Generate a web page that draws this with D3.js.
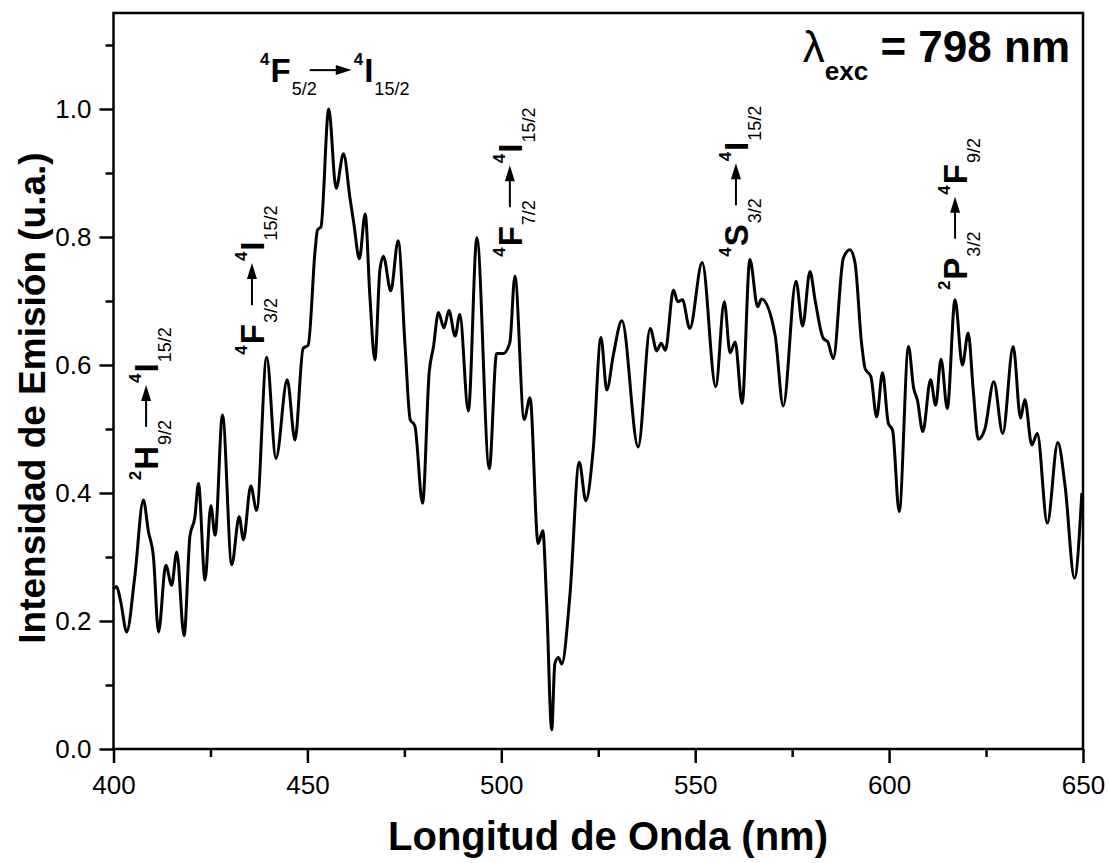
<!DOCTYPE html>
<html>
<head>
<meta charset="utf-8">
<script src="https://cdn.jsdelivr.net/npm/d3@7"></script>
<style>
  body { margin: 0; background: #fff; }
  svg { font-family: "Liberation Sans", Arial, sans-serif; }
</style>
</head>
<body>
<div id="chart"></div>
<script>
// emission spectrum
const wavelength = [
  400.0, 400.8, 401.8, 403.4, 405.5, 407.7, 409.0, 410.3, 411.6, 413.5, 415.0, 416.3, 418.2, 419.7,
  421.0, 421.9, 423.6, 425.1, 426.2, 428.1, 430.5, 432.4, 433.5, 435.4, 436.9, 439.5, 441.9, 444.8,
  446.8, 448.9, 450.2, 452.0, 452.6, 453.5, 455.5, 457.4, 459.3, 461.0, 462.0, 463.4, 464.9, 466.1,
  467.4, 468.7, 469.6, 471.5, 473.4, 475.2, 476.5, 477.7, 479.7, 481.4, 482.5, 483.8, 485.2, 486.5,
  488.1, 489.3, 491.5, 493.7, 496.9, 498.8, 500.5, 502.2, 503.5, 505.9, 507.4, 509.5, 510.7, 511.7,
  513.0, 513.8, 514.7, 515.6, 517.7, 520.1, 521.8, 523.7, 525.7, 527.2, 528.9, 531.1, 535.3, 538.4,
  540.1, 541.2, 542.3, 544.4, 545.5, 546.7, 548.6, 551.8, 555.3, 557.5, 559.0, 560.3, 562.1, 564.1,
  566.1, 567.1, 570.6, 572.7, 576.0, 577.7, 579.6, 580.9, 583.0, 584.2, 585.6, 588.2, 589.9, 591.2,
  592.9, 593.8, 595.3, 596.8, 598.3, 599.8, 600.9, 602.6, 605.0, 606.3, 607.3, 608.7, 610.7, 612.0,
  613.4, 615.0, 617.0, 618.9, 620.4, 621.7, 623.0, 624.7, 627.0, 629.3, 632.0, 633.9, 635.0, 636.8,
  638.2, 640.8, 643.5, 645.4, 647.8, 649.7
];
const intensity = [
  0.250, 0.254, 0.232, 0.183, 0.270, 0.389, 0.340, 0.300, 0.183, 0.287, 0.256, 0.308, 0.177, 0.332,
  0.363, 0.415, 0.264, 0.380, 0.334, 0.522, 0.288, 0.363, 0.327, 0.411, 0.373, 0.612, 0.454, 0.577,
  0.483, 0.626, 0.631, 0.780, 0.811, 0.816, 1.000, 0.876, 0.930, 0.860, 0.820, 0.766, 0.836, 0.709,
  0.608, 0.749, 0.770, 0.716, 0.794, 0.628, 0.515, 0.505, 0.384, 0.588, 0.628, 0.682, 0.658, 0.685,
  0.645, 0.679, 0.528, 0.799, 0.438, 0.618, 0.618, 0.635, 0.739, 0.515, 0.549, 0.321, 0.341, 0.227,
  0.030, 0.133, 0.143, 0.133, 0.241, 0.448, 0.388, 0.468, 0.643, 0.561, 0.616, 0.669, 0.472, 0.657,
  0.622, 0.634, 0.623, 0.717, 0.699, 0.702, 0.657, 0.760, 0.566, 0.699, 0.619, 0.636, 0.540, 0.765,
  0.691, 0.703, 0.647, 0.536, 0.731, 0.661, 0.746, 0.702, 0.642, 0.636, 0.610, 0.767, 0.780, 0.760,
  0.634, 0.595, 0.582, 0.519, 0.588, 0.509, 0.498, 0.371, 0.629, 0.565, 0.545, 0.496, 0.577, 0.537,
  0.609, 0.532, 0.702, 0.600, 0.650, 0.560, 0.484, 0.500, 0.574, 0.493, 0.629, 0.517, 0.546, 0.475,
  0.493, 0.353, 0.479, 0.410, 0.267, 0.400
];

const xTicks = [400, 450, 500, 550, 600, 650];
const xMinorTicks = [425, 475, 525, 575, 625];
const yTicks = [0.0, 0.2, 0.4, 0.6, 0.8, 1.0];
const yMinorTicks = [0.1, 0.3, 0.5, 0.7, 0.9, 1.1];

// transition labels: [superscript, letter, subscript] -> [...], anchored at (nm, value)
const transitions = [
  { from: ["4", "F", "5/2"], to: ["4", "I", "15/2"], at: [437.8, 1.042], vertical: false },
  { from: ["2", "H", "9/2"], to: ["4", "I", "15/2"], at: [411.5, 0.420], vertical: true },
  { from: ["4", "F", "3/2"], to: ["4", "I", "15/2"], at: [438.8, 0.616], vertical: true },
  { from: ["4", "F", "7/2"], to: ["4", "I", "15/2"], at: [505.3, 0.769], vertical: true },
  { from: ["4", "S", "3/2"], to: ["4", "I", "15/2"], at: [563.6, 0.769], vertical: true },
  { from: ["2", "P", "3/2"], to: ["4", "F", "9/2"], at: [620.1, 0.717], vertical: true }
];

const W = 1109, H = 863;
const padL = 113.5, padR = 1083, padT = 13, padB = 749;

const svg = d3.select("#chart").append("svg")
  .attr("width", W)
  .attr("height", H);

const x = d3.scaleLinear().domain([400, 650]).range([padL, padR]);
const y = d3.scaleLinear().domain([0, 1.15]).range([padB, padT]);

// frame
svg.append("rect")
  .attr("x", padL).attr("y", padT)
  .attr("width", padR - padL).attr("height", padB - padT)
  .attr("fill", "none").attr("stroke", "#000").attr("stroke-width", 2.5);

// axes
svg.append("g")
  .attr("transform", `translate(0,${padB})`)
  .call(d3.axisBottom(x).tickValues(xTicks).tickSize(14).tickPadding(13).tickFormat(d3.format("d")));
svg.append("g")
  .attr("transform", `translate(0,${padB})`)
  .call(d3.axisBottom(x).tickValues(xMinorTicks).tickSize(8).tickFormat(""));
svg.append("g")
  .attr("transform", `translate(${padL},0)`)
  .call(d3.axisLeft(y).tickValues(yTicks).tickSize(14).tickPadding(8).tickFormat(d3.format(".1f")));
svg.append("g")
  .attr("transform", `translate(${padL},0)`)
  .call(d3.axisLeft(y).tickValues(yMinorTicks).tickSize(8).tickFormat(""));

svg.selectAll(".domain").remove();
svg.selectAll(".tick line").attr("stroke", "#000").attr("stroke-width", 2.5);
svg.selectAll(".tick text")
  .attr("font-family", "Liberation Sans, Arial, sans-serif")
  .attr("font-size", 26)
  .attr("fill", "#000");

// spectrum
const data = wavelength.map((w, i) => [w, intensity[i]]);
svg.append("path")
  .datum(data)
  .attr("fill", "none")
  .attr("stroke", "#000")
  .attr("stroke-width", 3)
  .attr("stroke-linejoin", "round")
  .attr("d", d3.line().x(d => x(d[0])).y(d => y(d[1])).curve(d3.curveMonotoneX));

// axis titles
svg.append("text")
  .attr("x", 608)
  .attr("y", 850)
  .attr("text-anchor", "middle")
  .attr("font-size", 40)
  .attr("font-weight", "bold")
  .text("Longitud de Onda (nm)");

svg.append("text")
  .attr("transform", "translate(45,398) rotate(-90)")
  .attr("text-anchor", "middle")
  .attr("font-size", 37)
  .attr("font-weight", "bold")
  .text("Intensidad de Emisión (u.a.)");

// excitation wavelength
const exc = svg.append("text")
  .attr("x", 1070)
  .attr("y", 62)
  .attr("text-anchor", "end")
  .attr("font-weight", "bold");
exc.append("tspan").attr("font-size", 44).attr("font-weight", "normal").text("λ");
exc.append("tspan").attr("font-size", 26).attr("dy", 18).text("exc");
exc.append("tspan").attr("font-size", 44).attr("dy", -18).text(" = 798 nm");

// transition labels
function level(g, lv, u) {
  const sup = g.append("text").attr("x", u).attr("y", -17)
    .attr("font-size", 17).attr("font-weight", "bold").text(lv[0]);
  u += sup.node().getComputedTextLength() + 1;
  const big = g.append("text").attr("x", u).attr("y", 0)
    .attr("font-size", 33).attr("font-weight", "bold").text(lv[1]);
  u += big.node().getComputedTextLength() + 1;
  g.append("text").attr("x", u).attr("y", 13)
    .attr("font-size", 18).text(lv[2]);
  return u;
}

transitions.forEach(t => {
  const g = svg.append("g")
    .attr("transform", `translate(${x(t.at[0])},${y(t.at[1])})` + (t.vertical ? " rotate(-90)" : ""));
  const subStart = level(g, t.from, 0);
  const a0 = subStart + 18, a1 = a0 + 42;
  g.append("line")
    .attr("x1", a0).attr("x2", a1 - 12)
    .attr("y1", -12).attr("y2", -12)
    .attr("stroke", "#000").attr("stroke-width", 2);
  g.append("path")
    .attr("d", `M${a1},-12 L${a1 - 16},-17 L${a1 - 16},-7 Z`)
    .attr("fill", "#000");
  level(g, t.to, a1 + 2);
});
</script>
</body>
</html>
